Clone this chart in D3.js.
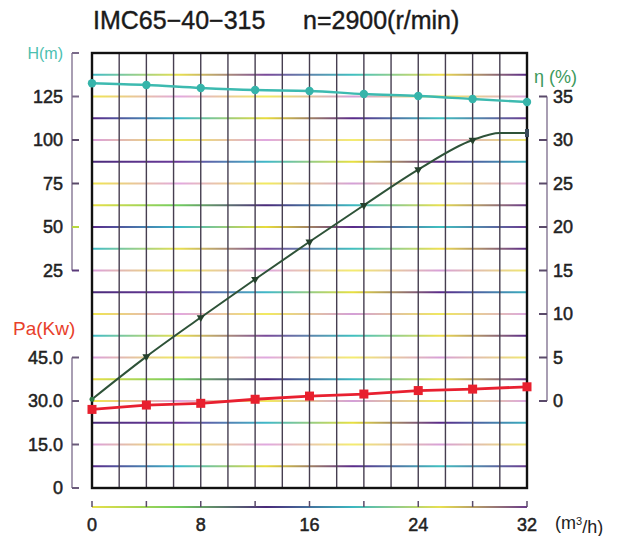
<!DOCTYPE html>
<html><head><meta charset="utf-8">
<script src="https://cdn.jsdelivr.net/npm/d3@7/dist/d3.min.js"></script>
<style>
html,body{margin:0;padding:0;background:#fff;}
text{font-family:"Liberation Sans",Arial,Helvetica,sans-serif;}
</style></head>
<body>
<svg id="chart" width="622" height="536"></svg>
<script>
// ---- data ----
const flowH = [0, 4, 8, 12, 16, 20, 24, 28, 32];
const headH = [132.6, 131.6, 129.9, 128.7, 128.2, 126.4, 125.3, 123.6, 121.8];

const flowEta = [0, 4, 8, 12, 16, 20, 24, 28, 30, 32];
const effEta = [0.2, 5.1, 9.6, 14.0, 18.3, 22.5, 26.6, 30.0, 30.8, 30.8];
const etaMarkerFlow = [4, 8, 12, 16, 20, 24, 28];

const flowPa = [0, 4, 8, 12, 16, 20, 24, 28, 32];
const powerPa = [27.1, 28.6, 29.2, 30.6, 31.7, 32.4, 33.6, 34.1, 34.9];

const xTicks = [0, 8, 16, 24, 32];
const xMinorTicks = [0, 4, 8, 12, 16, 20, 24, 28, 32];
const hTicks = [25, 50, 75, 100, 125];
const paTicks = [0, 15, 30, 45];
const etaTicks = [0, 5, 10, 15, 20, 25, 30, 35];

const titleModel = "IMC65\u221240\u2212315";
const titleSpeed = "n=2900(r/min)";

// ---- layout ----
const svg = d3.select("#chart");
const L = 92, R = 527, T = 53, B = 488;
const x = d3.scaleLinear([0, 32], [L, R]);
const yH = d3.scaleLinear([-100, 150], [B, T]);
const yPa = d3.scaleLinear([0, 150], [B, T]);
const yEta = d3.scaleLinear([-10, 40], [B, T]);

// gradients for scanned colourful grid lines (style only)
const defs = svg.append("defs");
const gradSpecs = [
  ["#5a2a8a", "#3ab8c8", "#e8dc3c", "#5a2a8a", "#40c0c0", "#6a3a90"],
  ["#dca0dc", "#f0ea60", "#e0a8e0", "#f4ec70", "#d8a0d8", "#f0e870"],
  ["#4a2a7a", "#6a3a9a", "#40b8c8", "#e8e040", "#5a2a8a", "#3ab0c0"],
  ["#f0e650", "#e2a8e0", "#f2ea60", "#d4a0d8", "#f0e860", "#dca8e0"],
  ["#e8e048", "#70cc60", "#4a2a7a", "#3cb8c0", "#e8e050", "#6a3a8a"],
  ["#40bcc8", "#e8e050", "#7a4a9a", "#40c0c0", "#f0e050", "#5a2a8a"]
];
gradSpecs.forEach((stops, i) => {
  const g = defs.append("linearGradient").attr("id", "g" + i)
    .attr("gradientUnits", "userSpaceOnUse")
    .attr("x1", L).attr("x2", R).attr("y1", 0).attr("y2", 0);
  stops.forEach((c, j) => g.append("stop").attr("offset", j / (stops.length - 1)).attr("stop-color", c));
});
const rowPattern = [0, 1, 2, 3, 4, 1, 5, 3, 2, 1, 5, 0, 4, 3, 2, 1, 0, 3, 5];

// horizontal grid lines
const hLines = d3.range(1, 20).map(i => -100 + i * 12.5);
svg.append("g").selectAll("line").data(hLines).join("line")
  .attr("x1", L).attr("x2", R)
  .attr("y1", d => yH(d)).attr("y2", d => yH(d))
  .attr("stroke", (d, i) => "url(#g" + rowPattern[i] + ")")
  .attr("stroke-width", (d, i) => (rowPattern[i] === 1 || rowPattern[i] === 3) ? 1.8 : 2.1);

// vertical grid lines
const vLines = d3.range(1, 16).map(i => i * 2);
svg.append("g").selectAll("line").data(vLines).join("line")
  .attr("x1", d => x(d)).attr("x2", d => x(d))
  .attr("y1", T).attr("y2", B)
  .attr("stroke", "#463e50").attr("stroke-width", 1.4);

// frame
svg.append("rect").attr("x", L).attr("y", T).attr("width", R - L).attr("height", B - T)
  .attr("fill", "none").attr("stroke", "#111").attr("stroke-width", 2.4);

// title
const titleG = svg.append("g").attr("fill", "#1a1a1a").attr("stroke", "#1a1a1a").attr("stroke-width", 0.4);
titleG.append("text").attr("x", 93).attr("y", 29).attr("font-size", 25).text(titleModel);
titleG.append("text").attr("x", 303).attr("y", 29).attr("font-size", 25).text(titleSpeed);

const lblStyle = sel => sel.attr("font-size", 18).attr("fill", "#222").attr("stroke", "#222").attr("stroke-width", 0.5);

// ---- left H axis (bracket) ----
const axCol = "#7a6a8a";
const hx = 72;
svg.append("line").attr("x1", hx).attr("x2", hx).attr("y1", yH(150)).attr("y2", yH(25))
  .attr("stroke", axCol).attr("stroke-width", 1.3);
svg.append("g").selectAll("line").data([150].concat(hTicks)).join("line")
  .attr("x1", hx).attr("x2", hx + 7).attr("y1", d => yH(d)).attr("y2", d => yH(d))
  .attr("stroke", (d, i) => ["#7a6a8a", "#5a3a7a", "#b8d840", "#5a4a6a", "#5a4a6a", "#7a6a8a"][i]).attr("stroke-width", 2);
svg.append("g").selectAll("text").data(hTicks).join("text")
  .attr("x", 63).attr("y", d => yH(d)).attr("dy", "0.36em").attr("text-anchor", "end")
  .call(lblStyle).text(d => d);
svg.append("text").attr("x", 63).attr("y", 53).attr("dy", "0.36em").attr("text-anchor", "end")
  .attr("font-size", 16).attr("fill", "#4cc0b0").text("H(m)");

// ---- left Pa axis ----
const px = 72;
svg.append("line").attr("x1", px).attr("x2", px).attr("y1", yPa(45)).attr("y2", yPa(0))
  .attr("stroke", axCol).attr("stroke-width", 1.3);
svg.append("g").selectAll("line").data(paTicks).join("line")
  .attr("x1", px).attr("x2", px + 7).attr("y1", d => yPa(d)).attr("y2", d => yPa(d))
  .attr("stroke", "#6a5a7a").attr("stroke-width", 2);
svg.append("g").selectAll("text").data(paTicks).join("text")
  .attr("x", 63).attr("y", d => yPa(d)).attr("dy", "0.36em").attr("text-anchor", "end")
  .call(lblStyle).text(d => d === 0 ? "0" : d3.format(".1f")(d));
svg.append("text").attr("x", 13).attr("y", 328).attr("dy", "0.36em")
  .attr("font-size", 19).attr("fill", "#e8402a").text("Pa(Kw)");

// ---- right eta axis ----
const ex = 547;
svg.append("line").attr("x1", ex).attr("x2", ex).attr("y1", yEta(35)).attr("y2", yEta(0))
  .attr("stroke", axCol).attr("stroke-width", 1.3);
svg.append("g").selectAll("line").data(etaTicks).join("line")
  .attr("x1", ex - 8).attr("x2", ex).attr("y1", d => yEta(d)).attr("y2", d => yEta(d))
  .attr("stroke", "#5a4a6a").attr("stroke-width", 2);
svg.append("g").selectAll("text").data(etaTicks).join("text")
  .attr("x", 553).attr("y", d => yEta(d)).attr("dy", "0.36em")
  .call(lblStyle).text(d => d);
svg.append("text").attr("x", 534).attr("y", 77).attr("dy", "0.36em")
  .attr("font-size", 18).attr("fill", "#3c9a5c").text("\u03B7 (%)");

// ---- bottom x axis ----
const by = 507;
svg.append("line").attr("x1", x(0)).attr("x2", x(32)).attr("y1", by).attr("y2", by)
  .attr("stroke", "url(#g4)").attr("stroke-width", 1.8);
svg.append("g").selectAll("line").data(xMinorTicks).join("line")
  .attr("x1", d => x(d)).attr("x2", d => x(d)).attr("y1", by - 6).attr("y2", by)
  .attr("stroke", "#5a4a6a").attr("stroke-width", 1.5);
svg.append("g").selectAll("text").data(xTicks).join("text")
  .attr("x", d => x(d)).attr("y", 525).attr("dy", "0.36em").attr("text-anchor", "middle")
  .call(lblStyle).text(d => d);
const unit = svg.append("text").attr("x", 555).attr("y", 523).attr("dy", "0.36em")
  .attr("font-size", 18).attr("fill", "#222");
unit.append("tspan").text("(m");
unit.append("tspan").attr("dy", "-0.45em").attr("font-size", 11).text("3");
unit.append("tspan").attr("dy", "0.45em").text("/h)");

// ---- curves ----
const hData = flowH.map((f, i) => [f, headH[i]]);
const etaData = flowEta.map((f, i) => [f, effEta[i]]);
const paData = flowPa.map((f, i) => [f, powerPa[i]]);

svg.append("path").datum(hData)
  .attr("d", d3.line().x(d => x(d[0])).y(d => yH(d[1])).curve(d3.curveMonotoneX))
  .attr("fill", "none").attr("stroke", "#3dbab0").attr("stroke-width", 2.4);
svg.append("g").selectAll("circle").data(hData).join("circle")
  .attr("cx", d => x(d[0])).attr("cy", d => yH(d[1])).attr("r", 4.2)
  .attr("fill", "#36b4aa");

svg.append("path").datum(etaData)
  .attr("d", d3.line().x(d => x(d[0])).y(d => yEta(d[1])).curve(d3.curveMonotoneX))
  .attr("fill", "none").attr("stroke", "#2e5238").attr("stroke-width", 2);
const etaAt = f => effEta[flowEta.indexOf(f)];
svg.append("g").selectAll("path").data(etaMarkerFlow).join("path")
  .attr("transform", d => `translate(${x(d)},${yEta(etaAt(d))}) rotate(180)`)
  .attr("d", d3.symbol(d3.symbolTriangle, 28))
  .attr("fill", "#24402c");
svg.append("circle").attr("cx", x(0)).attr("cy", yEta(effEta[0])).attr("r", 2.5).attr("fill", "#2e7a48");
svg.append("rect").attr("x", x(32) - 2).attr("y", yEta(effEta[effEta.length - 1]) - 4)
  .attr("width", 4).attr("height", 8).attr("fill", "#3a4a5a");

svg.append("path").datum(paData)
  .attr("d", d3.line().x(d => x(d[0])).y(d => yPa(d[1])))
  .attr("fill", "none").attr("stroke", "#e82030").attr("stroke-width", 2.8);
svg.append("g").selectAll("rect").data(paData).join("rect")
  .attr("x", d => x(d[0]) - 4.5).attr("y", d => yPa(d[1]) - 4.5)
  .attr("width", 9).attr("height", 9).attr("fill", "#e8202e");
</script>
</body></html>
